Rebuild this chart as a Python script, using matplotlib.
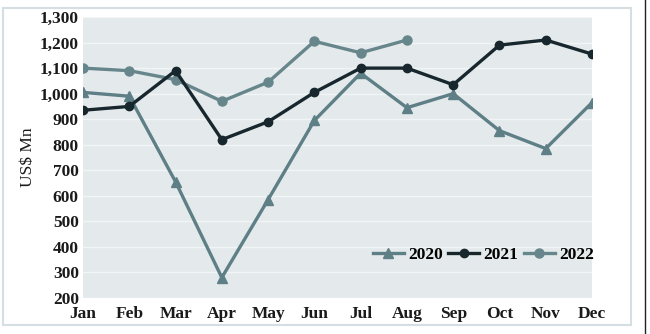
import matplotlib
matplotlib.use("Agg")
import matplotlib.pyplot as plt
from matplotlib.patches import Rectangle
from matplotlib.lines import Line2D

months = ["Jan", "Feb", "Mar", "Apr", "May", "Jun", "Jul", "Aug", "Sep", "Oct", "Nov", "Dec"]
v2020 = [1005, 990, 655, 280, 585, 895, 1080, 945, 1000, 855, 785, 965]
v2021 = [935, 950, 1090, 820, 890, 1005, 1100, 1100, 1035, 1190, 1210, 1155]
v2022 = [1100, 1090, 1055, 970, 1045, 1205, 1160, 1210]
yticks = list(range(200, 1301, 100))

plt.rcParams['font.family'] = ['Liberation Serif', 'DejaVu Serif']

fig = plt.figure(figsize=(6.5, 3.34), dpi=100)
fig.patch.set_facecolor('white')
ax = fig.add_axes([0.1277, 0.1078, 0.7831, 0.8412])
ax.set_facecolor('#e4eaec')

c20 = '#5e7f86'
c21 = '#17272d'
c22 = '#67868c'

x = list(range(12))
ax.plot(x, v2020, color=c20, lw=2.4, marker='^', ms=7, label='2020', zorder=3)
ax.plot(x, v2021, color=c21, lw=2.4, marker='o', ms=6, label='2021', zorder=4)
ax.plot(x[:len(v2022)], v2022, color=c22, lw=2.4, marker='o', ms=6.5, label='2022', zorder=3)

ax.set_xlim(0, 11)
ax.set_ylim(200, 1300)
ax.set_xticks(x)
ax.set_xticklabels(months, fontsize=12.5, fontweight='bold', color='#1a1a1a')
ax.set_yticks(yticks)
ax.set_yticklabels([f"{v:,}" for v in yticks], fontsize=12.5, fontweight='bold', color='#1a1a1a')
ax.tick_params(axis='y', length=0, pad=3)
ax.tick_params(axis='x', length=0, pad=6)
ax.grid(axis='y', color='#f2f5f6', lw=1)
ax.set_axisbelow(True)
for s in ax.spines.values():
    s.set_visible(False)
ax.set_ylabel('US$ Mn', fontsize=12.5, color='#1a1a1a', labelpad=3)

leg = ax.legend(loc='lower right', bbox_to_anchor=(1.018, 0.1), ncol=3, frameon=False,
                fontsize=12.5, handlelength=1.8, columnspacing=0.3, handletextpad=0.25,
                borderaxespad=0)
for t in leg.get_texts():
    t.set_fontweight('bold')

# outer frame
fig.add_artist(Rectangle((3/650, 9/334), 628/650, 317/334, transform=fig.transFigure,
                         fill=False, ec='#d5dfe3', lw=1.5))
fig.add_artist(Line2D([645/650, 645/650], [0, 1], transform=fig.transFigure, color='#222222', lw=1))

fig.savefig('out.png', dpi=100)
